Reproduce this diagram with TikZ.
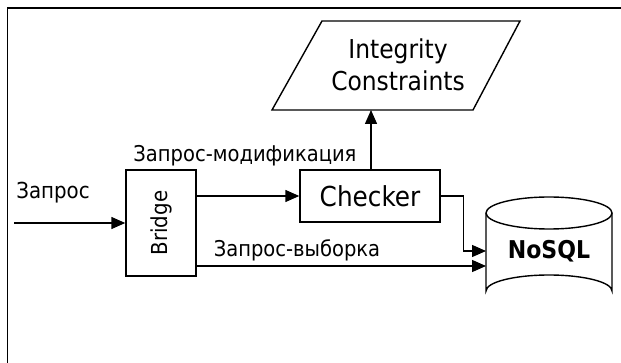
\documentclass[tikz,border=0pt]{standalone}
\usepackage{fontspec}
\setmainfont{DejaVu Sans Condensed}
\usetikzlibrary{arrows.meta}
\begin{document}
\begin{tikzpicture}[x=1pt,y=-1pt,
  line width=1.4pt,
  arr/.style={-{Triangle[length=14pt,width=12pt]}},
  boxnode/.style={draw,inner sep=0pt},
  lbl/.style={font=\fontsize{21.7}{24}\selectfont,inner sep=0pt},
  big/.style={font=\fontsize{26}{32}\selectfont,inner sep=0pt,align=center}]
\useasboundingbox (0,0) rectangle (621,363);
% frame
\draw[line width=1.8pt] (7.5,363) -- (7.5,8) -- (621,8);
% integrity constraints parallelogram
\draw (322,21) -- (520,21) -- (473,110) -- (272,110) -- cycle;
\node[big] (ic) at (398,65) {Integrity\\Constraints};
\coordinate (icb) at (371,110);
% bridge
\node[boxnode,minimum width=70,minimum height=106] (bridge) at (161,223) {};
\node[lbl,rotate=90,font=\fontsize{22}{26}\selectfont] (bridgetxt) at (bridge.center) {Bridge};
% checker
\node[boxnode,minimum width=140,minimum height=52,big,font=\fontsize{27.5}{32}\selectfont] (checker) at (370,196) {Checker};
% cylinder
\draw (486,213) -- (486,291) arc[start angle=180,end angle=360,x radius=63,y radius=16] -- (612,213);
\draw (549,213) ellipse[x radius=63,y radius=16];
\node[font=\bfseries\fontsize{24.5}{28}\selectfont,inner sep=0pt] (db) at (549,251) {NoSQL};
\coordinate (dbin1) at (486,251);
\coordinate (dbin2) at (486,266);
\coordinate (in) at (14,223);
% connectors
\draw[arr] (in) -- (bridge.west);
\draw[arr] (bridge.east |- checker.west) -- (checker.west);
\draw[arr] (checker.north -| icb) -- (icb);
\draw[arr] (checker.east) -- ++(23,0) |- (dbin1);
\draw[arr] (bridge.east |- dbin2) -- (dbin2);
% labels
\node[lbl,font=\fontsize{22}{24}\selectfont] (l1) at (53,193) {Запрос};
\node[lbl] (l2) at (245,156) {Запрос-модификация};
\node[lbl] (l3) at (297,250) {Запрос-выборка};
\end{tikzpicture}
\end{document}
